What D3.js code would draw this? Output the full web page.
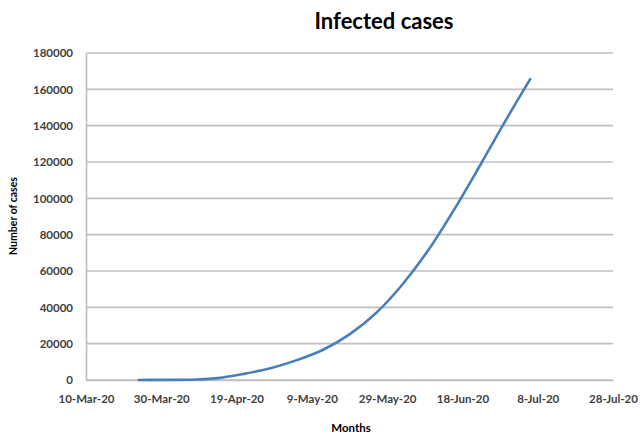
<!DOCTYPE html>
<html>
<head>
<meta charset="utf-8">
<script src="https://cdn.jsdelivr.net/npm/d3@7"></script>
<style>
  html, body { margin: 0; padding: 0; background: #fff; }
  svg { display: block; }
</style>
</head>
<body>
<svg id="chart" width="641" height="435"></svg>
<script>
// ---- data ----
const dates = ["2020-03-24","2020-03-31","2020-04-07","2020-04-14","2020-04-21","2020-04-28",
               "2020-05-05","2020-05-12","2020-05-19","2020-05-26","2020-06-02","2020-06-09",
               "2020-06-16","2020-06-23","2020-06-30","2020-07-06"];
const cases = [39, 51, 164, 1012, 3382, 6462, 10929, 16660, 25121, 36751, 52445, 71675,
               94481, 119300, 144700, 165618];
const yTicks = [0, 20000, 40000, 60000, 80000, 100000, 120000, 140000, 160000, 180000];
const xTickDates = ["2020-03-10","2020-03-30","2020-04-19","2020-05-09","2020-05-29",
                    "2020-06-18","2020-07-08","2020-07-28"];
const title = "Infected cases";
const xTitle = "Months";
const yTitle = "Number of cases";

const parse = d3.utcParse("%Y-%m-%d");
const data = dates.map((d, i) => ({ date: parse(d), value: cases[i] }));

const svg = d3.select("#chart");
const mLeft = 86, mRight = 613, mTop = 53, mBottom = 380;

const x = d3.scaleUtc()
  .domain([parse(xTickDates[0]), parse(xTickDates[xTickDates.length - 1])])
  .range([mLeft, mRight]);
const y = d3.scaleLinear().domain([0, 180000]).range([mBottom, mTop]);

const font = "Lato, 'Open Sans', sans-serif";
const gridColor = "#c0c0c0";
const textColor = "#404040";

// gridlines
svg.append("g")
  .selectAll("line")
  .data(yTicks)
  .join("line")
  .attr("x1", mLeft).attr("x2", mRight)
  .attr("y1", d => y(d)).attr("y2", d => y(d))
  .attr("stroke", gridColor).attr("stroke-width", 1.7);

// y axis
const yAxis = svg.append("g")
  .attr("transform", `translate(${mLeft},0)`)
  .call(d3.axisLeft(y).tickValues(yTicks).tickSize(0).tickPadding(13).tickFormat(d3.format("d")));
yAxis.select(".domain").attr("stroke", gridColor).attr("stroke-width", 1.7);
yAxis.selectAll("text")
  .attr("font-family", font).attr("font-size", 11.5).attr("font-weight", 700)
  .attr("fill", textColor);

// x axis
const fmt = d3.utcFormat("%-d-%b-%y");
const xAxis = svg.append("g")
  .attr("transform", `translate(0,${mBottom})`)
  .call(d3.axisBottom(x).tickValues(xTickDates.map(parse)).tickSize(0).tickPadding(15).tickFormat(fmt));
xAxis.select(".domain").attr("stroke", gridColor).attr("stroke-width", 1.7);
xAxis.selectAll("text")
  .attr("font-family", font).attr("font-size", 11.5).attr("font-weight", 700)
  .attr("fill", textColor);

// line
const line = d3.line()
  .x(d => x(d.date))
  .y(d => y(d.value))
  .curve(d3.curveMonotoneX);
svg.append("path")
  .datum(data)
  .attr("d", line)
  .attr("fill", "none")
  .attr("stroke", "#4a7ebb")
  .attr("stroke-width", 2.6)
  .attr("stroke-linecap", "round");

// titles
svg.append("text")
  .attr("x", 384).attr("y", 29)
  .attr("text-anchor", "middle")
  .attr("font-family", font).attr("font-size", 22).attr("font-weight", 700)
  .attr("fill", "#000")
  .text(title);

svg.append("text")
  .attr("x", 351).attr("y", 432)
  .attr("text-anchor", "middle")
  .attr("font-family", font).attr("font-size", 11.5).attr("font-weight", 700)
  .attr("fill", "#000")
  .text(xTitle);

svg.append("text")
  .attr("transform", "translate(17,216) rotate(-90)")
  .attr("text-anchor", "middle")
  .attr("font-family", font).attr("font-size", 10.5).attr("font-weight", 700)
  .attr("fill", "#000")
  .text(yTitle);
</script>
</body>
</html>
